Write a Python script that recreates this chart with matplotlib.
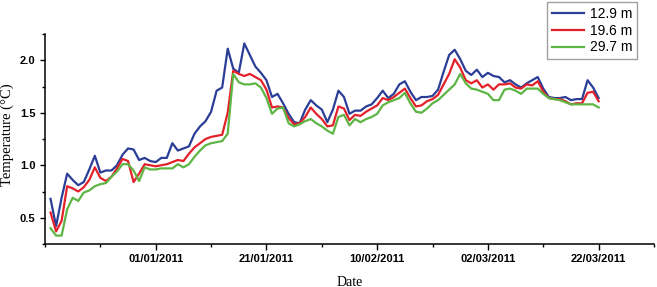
import matplotlib
matplotlib.use("Agg")
import matplotlib.pyplot as plt
import matplotlib.dates as mdates
from matplotlib.ticker import FixedLocator, MultipleLocator
import pandas as pd

start_date = "2010-12-13"
n_days = 100
depth_labels = ["12.9 m", "19.6 m", "29.7 m"]

temp_12_9 = [0.68, 0.42, 0.69, 0.92, 0.86, 0.81, 0.84, 0.96, 1.09, 0.93,
             0.95, 0.95, 1.00, 1.10, 1.16, 1.15, 1.05, 1.07, 1.04, 1.03,
             1.07, 1.07, 1.21, 1.14, 1.16, 1.18, 1.30, 1.37, 1.42, 1.51,
             1.71, 1.74, 2.11, 1.92, 1.88, 2.16, 2.05, 1.94, 1.88, 1.81,
             1.65, 1.68, 1.59, 1.49, 1.41, 1.40, 1.53, 1.62, 1.57, 1.53,
             1.41, 1.53, 1.71, 1.65, 1.49, 1.52, 1.52, 1.56, 1.58, 1.64,
             1.71, 1.64, 1.68, 1.77, 1.80, 1.70, 1.62, 1.65, 1.65, 1.66,
             1.72, 1.89, 2.05, 2.10, 2.01, 1.90, 1.86, 1.91, 1.84, 1.88,
             1.85, 1.84, 1.79, 1.81, 1.77, 1.74, 1.78, 1.81, 1.84, 1.73,
             1.65, 1.64, 1.64, 1.65, 1.62, 1.63, 1.63, 1.81, 1.74, 1.64]

temp_19_6 = [0.55, 0.37, 0.47, 0.80, 0.78, 0.75, 0.79, 0.86, 0.98, 0.88,
             0.85, 0.89, 0.97, 1.06, 1.04, 0.84, 0.92, 1.01, 1.00, 0.99,
             1.00, 1.01, 1.03, 1.05, 1.04, 1.11, 1.17, 1.21, 1.25, 1.27,
             1.28, 1.29, 1.50, 1.90, 1.87, 1.85, 1.87, 1.84, 1.81, 1.72,
             1.55, 1.56, 1.55, 1.45, 1.39, 1.40, 1.46, 1.55, 1.49, 1.44,
             1.37, 1.38, 1.56, 1.54, 1.43, 1.48, 1.47, 1.51, 1.54, 1.57,
             1.64, 1.62, 1.65, 1.69, 1.73, 1.64, 1.56, 1.57, 1.61, 1.63,
             1.67, 1.77, 1.87, 2.01, 1.93, 1.81, 1.78, 1.81, 1.74, 1.77,
             1.72, 1.77, 1.77, 1.78, 1.74, 1.73, 1.77, 1.76, 1.80, 1.70,
             1.64, 1.63, 1.63, 1.61, 1.58, 1.59, 1.59, 1.69, 1.70, 1.61]

temp_29_7 = [0.40, 0.33, 0.33, 0.58, 0.69, 0.66, 0.74, 0.76, 0.80, 0.82,
             0.83, 0.89, 0.94, 1.01, 1.01, 0.95, 0.85, 0.98, 0.96, 0.96,
             0.97, 0.97, 0.97, 1.01, 0.98, 1.01, 1.08, 1.14, 1.19, 1.21,
             1.22, 1.23, 1.30, 1.87, 1.79, 1.77, 1.77, 1.78, 1.74, 1.64,
             1.49, 1.54, 1.55, 1.40, 1.37, 1.39, 1.42, 1.44, 1.40, 1.37,
             1.33, 1.30, 1.46, 1.48, 1.38, 1.44, 1.41, 1.44, 1.46, 1.49,
             1.57, 1.60, 1.62, 1.64, 1.69, 1.59, 1.51, 1.50, 1.54, 1.59,
             1.62, 1.67, 1.72, 1.77, 1.87, 1.78, 1.73, 1.72, 1.70, 1.68,
             1.62, 1.62, 1.72, 1.73, 1.71, 1.68, 1.73, 1.73, 1.73, 1.68,
             1.64, 1.63, 1.62, 1.60, 1.58, 1.58, 1.58, 1.58, 1.58, 1.55]

colors = ["#2b3e97", "#e3212b", "#5db544"]

dates = pd.date_range(start_date, periods=n_days, freq="D")

fig = plt.figure(figsize=(6.57, 2.87), dpi=100)
ax = fig.add_axes([45 / 657, 43 / 287, 609 / 657, 210 / 287])

for series, lab, col in zip([temp_12_9, temp_19_6, temp_29_7], depth_labels, colors):
    ax.plot(dates, series, color=col, lw=1.6, label=lab)

ax.set_xlim(pd.Timestamp("2010-12-12"), pd.Timestamp("2011-04-01"))
ax.set_ylim(0.25, 2.25)

major = pd.date_range("2011-01-01", periods=5, freq="20D")
minor = [d for d in pd.date_range("2010-12-12", "2011-04-01", freq="10D") if d not in set(major)]
ax.xaxis.set_major_locator(FixedLocator(mdates.date2num(major)))
ax.xaxis.set_minor_locator(FixedLocator(mdates.date2num(minor)))
ax.xaxis.set_major_formatter(mdates.DateFormatter("%d/%m/%Y"))
ax.yaxis.set_major_locator(FixedLocator([0.5, 1.0, 1.5, 2.0]))
ax.yaxis.set_minor_locator(MultipleLocator(0.25))
ax.yaxis.set_major_formatter(matplotlib.ticker.FormatStrFormatter("%.1f"))

for s in ["top", "right"]:
    ax.spines[s].set_visible(False)
for s in ["left", "bottom"]:
    ax.spines[s].set_linewidth(1.1)

ax.tick_params(axis="x", which="major", direction="out", length=4.5, width=1.0, pad=3)
ax.tick_params(axis="x", which="minor", direction="out", length=2.3, width=1.0)
ax.tick_params(axis="y", which="major", direction="out", length=3.8, width=1.0, pad=3)
ax.tick_params(axis="y", which="minor", direction="out", length=2.3, width=1.0)

for lbl in ax.get_xticklabels() + ax.get_yticklabels():
    lbl.set_fontfamily("Liberation Sans")
    lbl.set_fontweight("bold")
    lbl.set_fontsize(8)

ax.set_xlabel("Date", family="Liberation Serif", fontsize=10, labelpad=8)
ax.set_ylabel("Temperature (\u00b0C)", family="Liberation Serif", fontsize=10.5)
ax.yaxis.set_label_coords(-0.051, 0.52)

leg = fig.legend(loc="upper right", bbox_to_anchor=(637 / 657, 1 - 2 / 287),
                 prop={"family": "Liberation Sans", "size": 10},
                 frameon=True, fancybox=False, handlelength=2.3,
                 labelspacing=0.2, borderpad=0.35, handletextpad=0.4,
                 borderaxespad=0)
leg.get_frame().set_edgecolor("#888888")
leg.get_frame().set_linewidth(1.0)

fig.savefig("out.png", dpi=100)
